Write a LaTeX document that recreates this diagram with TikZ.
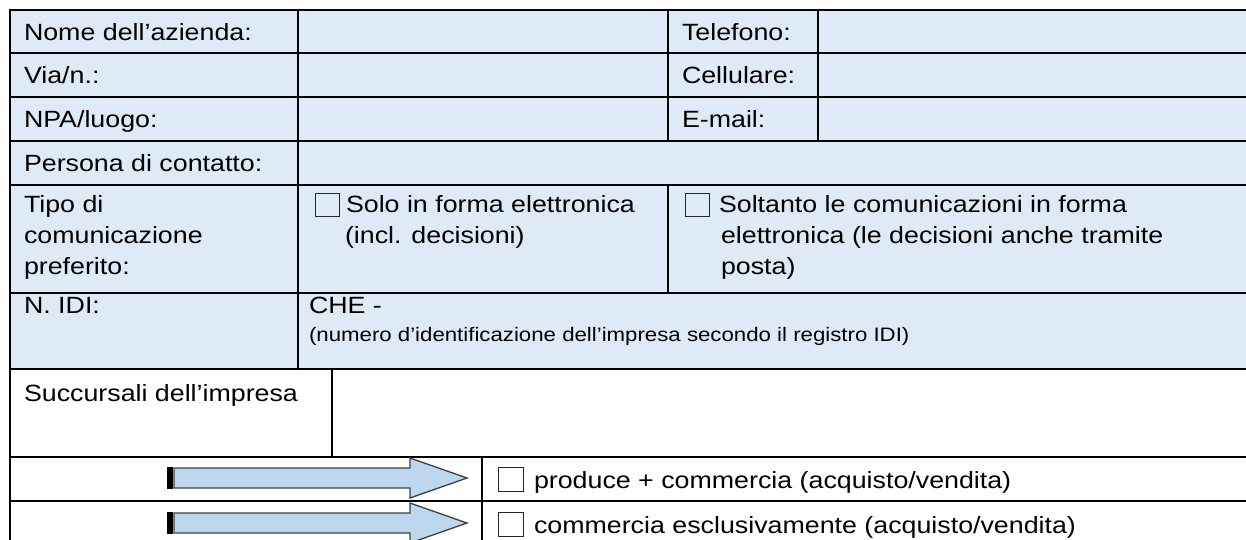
\documentclass[tikz,border=0pt]{standalone}
\usepackage{fontspec}
\setmainfont{Liberation Sans}[FakeStretch=1.14]
\definecolor{cellblue}{HTML}{DEEAF6}
\definecolor{arrowblue}{HTML}{BDD7EE}
\definecolor{arrowline}{HTML}{404040}
\tikzset{
  lbl/.style={anchor=base west, inner sep=0pt, outer sep=0pt, font=\fontsize{23.5}{31}\selectfont},
  smalltxt/.style={anchor=base west, inner sep=0pt, outer sep=0pt, font=\fontsize{19.5}{23}\selectfont},
  gridline/.style={line width=2pt, black},
  cbox/.style={draw=black!85, line width=1pt},
  bigarrow/.style={fill=arrowblue, draw=arrowline, line width=1.3pt, line join=miter},
  arrowbar/.style={fill=black, draw=none}
}
\begin{document}
\begin{tikzpicture}[x=1pt,y=-1pt]
\useasboundingbox (0,0) rectangle (1246,539);
\clip (0,0) rectangle (1246,539);
% background fill of the upper part of the form
\fill[cellblue] (10,10) rectangle (1260,369);
% horizontal rules
\foreach \yy in {10,53,97,141,185,293,369,457,501}
  \draw[gridline] (9,\yy) -- (1260,\yy);
% vertical rules
\draw[gridline] (10,9) -- (10,550);
\draw[gridline] (298,10) -- (298,369);
\draw[gridline] (668,10) -- (668,141);
\draw[gridline] (668,185) -- (668,293);
\draw[gridline] (818,10) -- (818,141);
\draw[gridline] (332,369) -- (332,457);
\draw[gridline] (482,457) -- (482,550);
% labels
\node[lbl] (nome) at (24,40) {Nome dell’azienda:};
\node[lbl] (via) at (24,83) {Via/n.:};
\node[lbl] (npa) at (24,127) {NPA/luogo:};
\node[lbl] (pers) at (24,171) {Persona di contatto:};
\node[lbl] (tipoa) at (24,212) {Tipo di};
\node[lbl] (tipob) at (24,243) {comunicazione};
\node[lbl] (tipoc) at (24,274) {preferito:};
\node[lbl] (tel) at (682,40) {Telefono:};
\node[lbl] (cell) at (682,83) {Cellulare:};
\node[lbl] (mail) at (682,127) {E-mail:};
% communication options
\draw[cbox] (315,193) rectangle (339,216);
\node[lbl] (soloa) at (346,212) {Solo in forma elettronica};
\node[lbl] (solob) at (345,243) {(incl. decisioni)};
\draw[cbox] (685,193) rectangle (709,216);
\node[lbl] (solta) at (719,212) {Soltanto le comunicazioni in forma};
\node[lbl] (soltb) at (721,243) {elettronica (le decisioni anche tramite};
\node[lbl] (soltc) at (721,274) {posta)};
% IDI
\node[lbl] (idi) at (24,313) {N. IDI:};
\node[lbl] (che) at (309,313) {CHE -};
\node[smalltxt] (idinote) at (309,341) {(numero d’identificazione dell’impresa secondo il registro IDI)};
% branches
\node[lbl] (succ) at (24,401) {Succursali dell’impresa};
% arrows
\fill[arrowbar] (167,467) rectangle (173,489);
\draw[bigarrow] (174,468) -- (410,468) -- (410,458) -- (467,478) -- (410,498) -- (410,488) -- (174,488) -- cycle;
\fill[arrowbar] (167,512) rectangle (173,534);
\draw[bigarrow] (174,513) -- (410,513) -- (410,503) -- (467,523) -- (410,543) -- (410,533) -- (174,533) -- cycle;
% options
\draw[cbox] (498,467) rectangle (523,491);
\node[lbl] (prod) at (534,488) {produce + commercia (acquisto/vendita)};
\draw[cbox] (498,512) rectangle (523,536);
\node[lbl] (comm) at (534,533) {commercia esclusivamente (acquisto/vendita)};
\end{tikzpicture}
\end{document}
